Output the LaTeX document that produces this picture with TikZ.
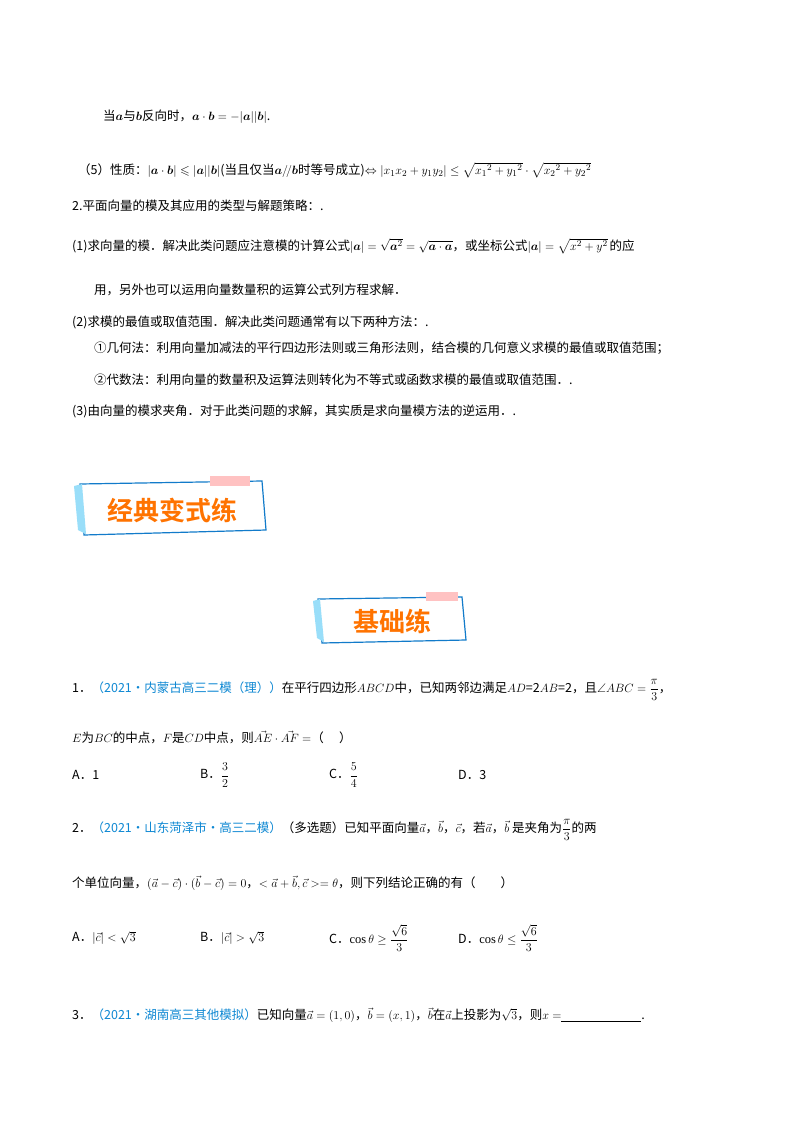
\documentclass[tikz,border=0pt]{standalone}
\usepackage{fontspec}
\usepackage{amsmath,amssymb}
\setmainfont{Liberation Serif}
\newfontfamily\cjk{Noto Sans CJK SC}
\newfontfamily\cjkb{Noto Sans CJK SC Bold}
\begin{document}
\begin{tikzpicture}[x=1pt,y=-1pt,
  t/.style={anchor=west,inner sep=0pt,font=\cjk\fontsize{12.5}{14}\selectfont},
  blue/.style={text=cyan!70!blue},
  banner/.style={draw=cyan!60!blue,line width=1.2pt,fill=white},
  bantext/.style={font=\cjkb\fontsize{26}{28}\selectfont,text=orange!90!red}]
\useasboundingbox (0,0) rectangle (800,1132);
\fill[white] (0,0) rectangle (800,1132);
\node[t] (l1) at (103,117) {当$\boldsymbol{a}$与$\boldsymbol{b}$反向时，$\boldsymbol{a}\cdot\boldsymbol{b}=-|\boldsymbol{a}||\boldsymbol{b}|$.};
\node[t] (l2) at (78,170) {（5）性质：$|\boldsymbol{a}\cdot\boldsymbol{b}|\leqslant|\boldsymbol{a}||\boldsymbol{b}|$(当且仅当$\boldsymbol{a}/\!/\boldsymbol{b}$时等号成立)$\Leftrightarrow|x_1x_2+y_1y_2|\le\sqrt{{x_1}^2+{y_1}^2}\cdot\sqrt{{x_2}^2+{y_2}^2}$};
\node[t] (l3) at (72,206) {2.平面向量的模及其应用的类型与解题策略：.};
\node[t] (l4) at (72,246) {(1)求向量的模．解决此类问题应注意模的计算公式$|\boldsymbol{a}|=\sqrt{\boldsymbol{a}^2}=\sqrt{\boldsymbol{a}\cdot\boldsymbol{a}}$，或坐标公式$|\boldsymbol{a}|=\sqrt{x^2+y^2}$\,的应};
\node[t] (l5) at (94,290) {用，另外也可以运用向量数量积的运算公式列方程求解．};
\node[t] (l6) at (72,322) {(2)求模的最值或取值范围．解决此类问题通常有以下两种方法：.};
\node[t] (l7) at (94,348) {①几何法：利用向量加减法的平行四边形法则或三角形法则，结合模的几何意义求模的最值或取值范围；};
\node[t] (l8) at (94,380) {②代数法：利用向量的数量积及运算法则转化为不等式或函数求模的最值或取值范围．.};
\node[t] (l9) at (72,411) {(3)由向量的模求夹角．对于此类问题的求解，其实质是求向量模方法的逆运用．.};
% banners
\draw[banner] (80,484) -- (262,481) -- (266,530) -- (84,535) -- cycle;
\fill[cyan!40] (74,486) -- (82,484) -- (86,534) -- (78,530) -- cycle;
\fill[pink!80!red!60] (210,476) rectangle (250,486);
\node[bantext] (b1) at (172,510) {经典变式练};
\draw[banner] (318,599) -- (462,597) -- (466,640) -- (322,643) -- cycle;
\fill[cyan!40] (313,601) -- (320,599) -- (324,642) -- (317,638) -- cycle;
\fill[pink!80!red!60] (426,592) rectangle (458,601);
\node[bantext] (b2) at (392,621) {基础练};
% questions
\node[t] (q1) at (72,690) {1．\textcolor{cyan!70!blue}{（2021·内蒙古高三二模（理））}在平行四边形$ABCD$中，已知两邻边满足$AD$=2$AB$=2，且$\angle ABC=\dfrac{\pi}{3}$，};
\node[t] (q1b) at (72,737) {$E$为$BC$的中点，$F$是$CD$中点，则$\vec{AE}\cdot\vec{AF}=$（\quad\ ）};
\node[t] (o1a) at (72,775) {A．1};
\node[t] (o1b) at (200,775) {B．$\dfrac32$};
\node[t] (o1c) at (329,775) {C．$\dfrac54$};
\node[t] (o1d) at (458,775) {D．3};
\node[t] (q2) at (72,830) {2．\textcolor{cyan!70!blue}{（2021·山东菏泽市·高三二模）}（多选题）已知平面向量$\vec a$，$\vec b$，$\vec c$，若$\vec a$，$\vec b$\ 是夹角为$\dfrac{\pi}{3}$的两};
\node[t] (q2b) at (72,883) {个单位向量，$(\vec a-\vec c)\cdot(\vec b-\vec c)=0$，$<\vec a+\vec b,\vec c>=\theta$，则下列结论正确的有（\qquad）};
\node[t] (o2a) at (72,938) {A．$|\vec c|<\sqrt3$};
\node[t] (o2b) at (200,938) {B．$|\vec c|>\sqrt3$};
\node[t] (o2c) at (329,938) {C．$\cos\theta\ge\dfrac{\sqrt6}{3}$};
\node[t] (o2d) at (458,938) {D．$\cos\theta\le\dfrac{\sqrt6}{3}$};
\node[t] (q3) at (72,1015) {3．\textcolor{cyan!70!blue}{（2021·湖南高三其他模拟）}已知向量$\vec a=(1,0)$，$\vec b=(x,1)$，$\vec b$在$\vec a$上投影为$\sqrt3$，则$x=$\underline{\hspace{80pt}}.};
\end{tikzpicture}
\end{document}
